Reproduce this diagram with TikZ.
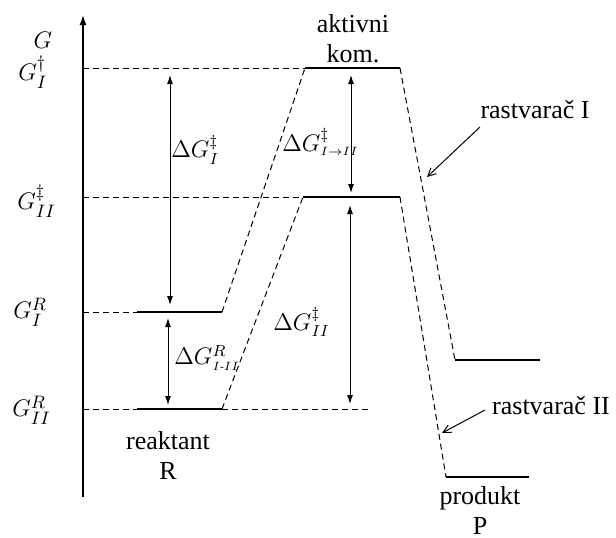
\documentclass[tikz,border=0pt]{standalone}
\usepackage{amsmath}
\usepackage{fontspec}
\setmainfont{Liberation Serif}
\usetikzlibrary{arrows.meta}
\begin{document}
\begin{tikzpicture}[x=0.5pt,y=-0.5pt,
  lvl/.style={line width=1.1pt},
  dsh/.style={dash pattern=on 3pt off 2pt, line width=0.5pt},
  dimarrow/.style={line width=0.5pt, {Latex[length=4.5pt,width=3pt]}-{Latex[length=4.5pt,width=3pt]}},
  ptr/.style={line width=0.5pt, -{Straight Barb[length=4pt,width=4pt]}},
  txt/.style={font=\fontsize{13}{15}\selectfont, inner sep=0pt, align=center},
  lab/.style={font=\fontsize{11.5}{13}\selectfont, inner sep=0pt},
  axlab/.style={font=\fontsize{12.5}{14}\selectfont, inner sep=0pt}]
\useasboundingbox (0,0) rectangle (616,537);
% axis
\coordinate (ax0) at (83,497);
\coordinate (ax1) at (83,15);
\draw[line width=0.7pt,-{Latex[length=5pt,width=3.5pt]}] (ax0) -- (ax1);
% axis points
\coordinate (a1) at (83,68);
\coordinate (a2) at (83,197);
\coordinate (a3) at (83,312);
\coordinate (a4) at (83,409);
% levels
\coordinate (t1l) at (305,68);  \coordinate (t1r) at (400,68);
\coordinate (t2l) at (303,197); \coordinate (t2r) at (400,197);
\coordinate (r1l) at (137,312); \coordinate (r1r) at (222,312);
\coordinate (r2l) at (137,409); \coordinate (r2r) at (222,409);
\coordinate (p1l) at (455,360); \coordinate (p1r) at (540,360);
\coordinate (p2l) at (446,477); \coordinate (p2r) at (529,477);
\coordinate (e2) at (370,409);
\draw[lvl] (t1l) -- (t1r);
\draw[lvl] (t2l) -- (t2r);
\draw[lvl] (r1l) -- (r1r);
\draw[lvl] (r2l) -- (r2r);
\draw[lvl] (p1l) -- (p1r);
\draw[lvl] (p2l) -- (p2r);
% dashed guides and paths
\draw[dsh] (a1) -- (t1l);
\draw[dsh] (a2) -- (t2l);
\draw[dsh] (a3) -- (r1l);
\draw[dsh] (a4) -- (r2l);
\draw[dsh] (r2r) -- (e2);
\draw[dsh] (r1r) -- (t1l);
\draw[dsh] (r2r) -- (t2l);
\draw[dsh] (t1r) -- (p1l);
\draw[dsh] (t2r) -- (p2l);
% dimension arrows
\coordinate (d1t) at (170,68);  \coordinate (d1b) at (170,312);
\coordinate (d2t) at (168,312); \coordinate (d2b) at (168,409);
\coordinate (d3t) at (351,68);  \coordinate (d3b) at (351,197);
\coordinate (d4t) at (350,197); \coordinate (d4b) at (350,409);
\draw[dimarrow, shorten <=3.5pt, shorten >=3.5pt] (d1t) -- (d1b);
\draw[dimarrow, shorten <=3pt, shorten >=2pt] (d2t) -- (d2b);
\draw[dimarrow, shorten <=3.5pt, shorten >=2pt] (d3t) -- (d3b);
\draw[dimarrow, shorten <=4pt, shorten >=2.5pt] (d4t) -- (d4b);
% axis labels
\node[axlab] (lG) at (43,40) {$G$};
\node[axlab, anchor=west] (lG1t) at (18,72) {$G_{I}^{\dagger}$};
\node[axlab, anchor=west] (lG2t) at (17,201) {$G_{II}^{\ddagger}$};
\node[axlab, anchor=west] (lG1r) at (13,312) {$G_{I}^{R}$};
\node[axlab, anchor=west] (lG2r) at (12,410) {$G_{II}^{R}$};
% difference labels
\node[lab, anchor=west] (dl1) at (171,150) {$\Delta G_{I}^{\ddagger}$};
\node[lab, anchor=west] (dl2) at (282,142) {$\Delta G^{\ddagger}_{\scriptscriptstyle I\to II}$};
\node[lab, anchor=west] (dl3) at (174,358) {$\Delta G^{R}_{\scriptscriptstyle I\text{-}II}$};
\node[lab, anchor=west] (dl4) at (273,322) {$\Delta G^{\ddagger}_{II}$};
% texts
\node[txt] (akt) at (353,39) {aktivni\\kom.};
\node[txt] (r1) at (535,110) {rastvarač I};
\node[txt] (r2) at (551,406) {rastvarač II};
\node[txt] (reak) at (168,455) {reaktant\\R};
\node[txt] (prod) at (480,510) {produkt\\P};
% pointers
\coordinate (s1) at (480,127); \coordinate (s1e) at (427,177);
\coordinate (s2) at (485,410); \coordinate (s2e) at (442,433);
\draw[ptr] (s1) -- (s1e);
\draw[ptr] (s2) -- (s2e);
\end{tikzpicture}
\end{document}
